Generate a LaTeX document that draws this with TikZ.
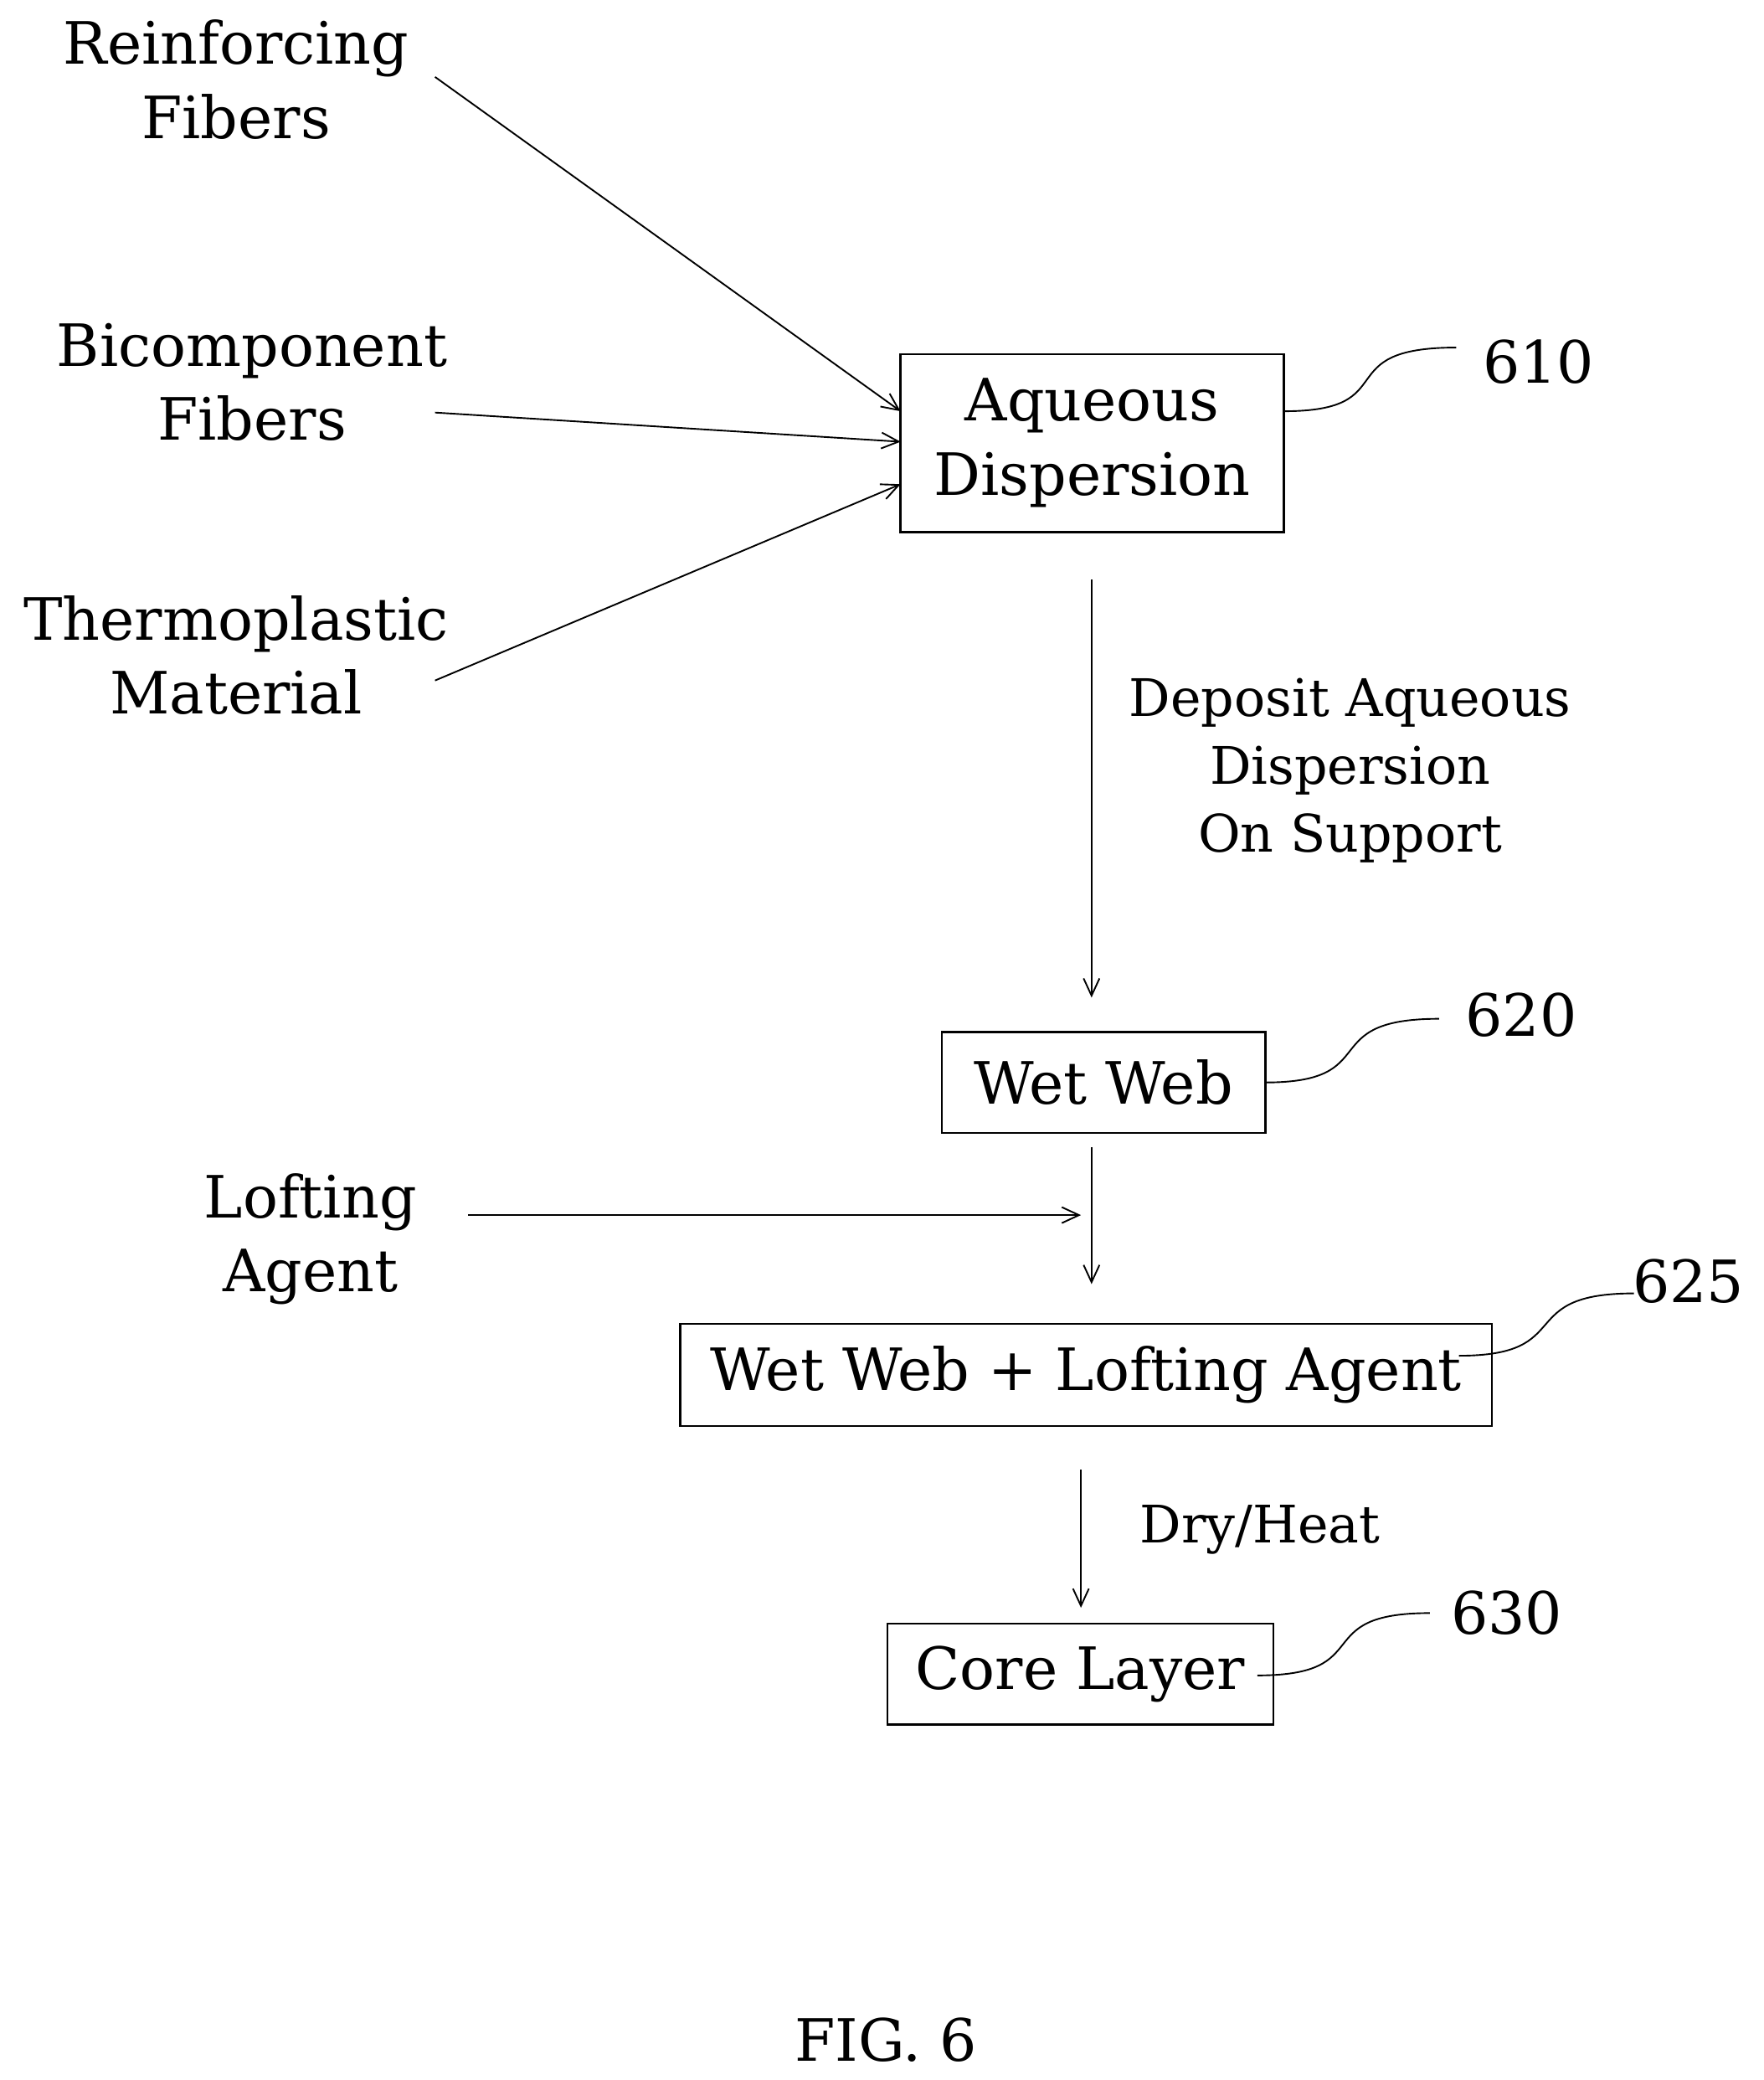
\documentclass[tikz,border=0pt]{standalone}
\usepackage{fontspec}
\setmainfont{DejaVu Serif}
\usetikzlibrary{arrows.meta}
\begin{document}
\begin{tikzpicture}[x=1pt,y=-1pt,
  big/.style={font=\fontsize{44}{56}\selectfont,align=center,inner sep=0pt},
  small/.style={font=\fontsize{39}{51}\selectfont,align=center,inner sep=0pt},
  box/.style={draw,line width=1.6pt,inner sep=0pt},
  arr/.style={-{Straight Barb[length=13pt,width=12pt]},line width=1.2pt},
  sq/.style={line width=1.2pt}]
\useasboundingbox (0,0) rectangle (1330,1568);
\node[big] (rf) at (178,60) {Reinforcing\\Fibers};
\node[big] (bf) at (190,288) {Bicomponent\\Fibers};
\node[big] (tm) at (178,494) {Thermoplastic\\Material};
\node[box,minimum width=289pt,minimum height=134pt] (ad) at (823.5,334) {};
\node[big] at (ad) {Aqueous\\Dispersion};
\coordinate (a1) at (328,58); \coordinate (a2) at (328,311); \coordinate (a3) at (328,513);
\coordinate (b1) at (679,310); \coordinate (b2) at (679,333); \coordinate (b3) at (679,365);
\draw[arr] (a1) -- (b1); \draw[arr] (a2) -- (b2); \draw[arr] (a3) -- (b3);
\node[big] (n610) at (1160,273) {610};
\coordinate (s1) at (968,310); \coordinate (e1) at (1098,262);
\draw[sq] (s1) .. controls (1060,310) and (1000,262) .. (e1);
\coordinate (d1) at (823,437); \coordinate (d2) at (823,752);
\draw[arr] (d1) -- (d2);
\node[small] (dep) at (1018,581) {Deposit Aqueous\\Dispersion\\On Support};
\node[box,minimum width=244pt,minimum height=76pt] (ww) at (832,816) {};
\node[big] at (ww) {Wet Web};
\node[big] (n620) at (1147,765) {620};
\coordinate (s2) at (954,816); \coordinate (e2) at (1085,768);
\draw[sq] (s2) .. controls (1045,816) and (990,768) .. (e2);
\coordinate (w1) at (823,865); \coordinate (w2) at (823,968);
\draw[arr] (w1) -- (w2);
\node[big] (la) at (234,934) {Lofting\\Agent};
\coordinate (l1) at (353,916); \coordinate (l2) at (815,916);
\draw[arr] (l1) -- (l2);
\node[box,minimum width=612pt,minimum height=77pt] (wl) at (819,1036.5) {};
\node[big] at (wl) {Wet Web + Lofting Agent};
\node[big] (n625) at (1273,966) {625};
\coordinate (s3) at (1100,1022); \coordinate (e3) at (1232,975);
\draw[sq] (s3) .. controls (1190,1022) and (1140,975) .. (e3);
\coordinate (h1) at (815,1108); \coordinate (h2) at (815,1212);
\draw[arr] (h1) -- (h2);
\node[small] (dh) at (950,1153) {Dry/Heat};
\node[box,minimum width=291pt,minimum height=76pt] (cl) at (814.5,1262) {};
\node[big] at (cl) {Core Layer};
\node[big] (n630) at (1136,1216) {630};
\coordinate (s4) at (948,1263); \coordinate (e4) at (1078,1216);
\draw[sq] (s4) .. controls (1040,1263) and (985,1216) .. (e4);
\node[big] (fig) at (668,1538) {FIG. 6};
\end{tikzpicture}
\end{document}
